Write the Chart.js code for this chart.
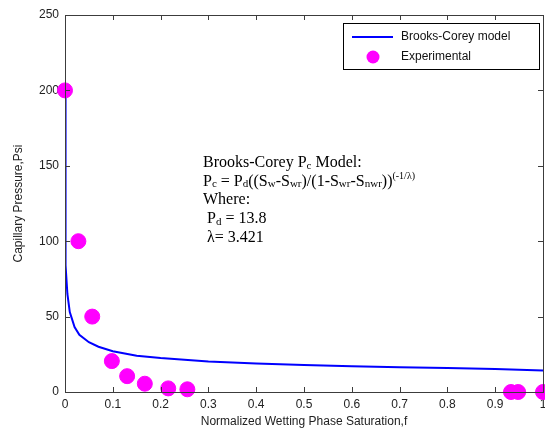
<!DOCTYPE html>
<html>
<head>
<meta charset="utf-8">
<script src="https://cdn.jsdelivr.net/npm/chart.js@4"></script>
<style>
    html, body { margin: 0; padding: 0; background: #fff; }
    #wrap { width: 545px; height: 435px; }
</style>
</head>
<body>
<div id="wrap"><canvas id="pc_chart" width="545" height="435"></canvas></div>
<script>
// Brooks-Corey model curve
var modelX = [0.0001, 0.0005, 0.001, 0.002, 0.005, 0.01, 0.02, 0.03, 0.05, 0.07, 0.1, 0.15, 0.2, 0.3, 0.4, 0.5, 0.6, 0.7, 0.8, 0.9, 1.0];
var modelY = [204, 127, 103, 84, 65, 53, 43, 38, 33, 30, 27, 24, 22.5, 20.3, 18.9, 17.9, 17.1, 16.4, 15.9, 15.2, 14.2];

// experimental points
var expX = [0, 0.028, 0.057, 0.098, 0.13, 0.167, 0.216, 0.256, 0.933, 0.948, 1.0];
var expY = [200, 100, 50, 20.5, 10.5, 5.5, 2.4, 1.8, 0, 0, 0];

var xTicks = [0, 0.1, 0.2, 0.3, 0.4, 0.5, 0.6, 0.7, 0.8, 0.9, 1];
var yTicks = [0, 50, 100, 150, 200, 250];

var seriesNames = ["Brooks-Corey model", "Experimental"];

function toPoints(xs, ys) {
    return xs.map(function (x, i) { return { x: x, y: ys[i] }; });
}

// box + inward ticks on all four sides
var boxPlugin = {
    id: 'boxPlugin',
    afterDraw: function (chart) {
        var ctx = chart.ctx, a = chart.chartArea;
        var sx = chart.scales.x, sy = chart.scales.y;
        ctx.save();
        ctx.strokeStyle = '#3c3c3c';
        ctx.lineWidth = 1;
        ctx.strokeRect(Math.round(a.left) + 0.5, Math.round(a.top) + 0.5, Math.round(a.right - a.left), Math.round(a.bottom - a.top));
        ctx.beginPath();
        xTicks.forEach(function (v) {
            var px = Math.round(sx.getPixelForValue(v)) + 0.5;
            ctx.moveTo(px, a.bottom); ctx.lineTo(px, a.bottom - 5);
            ctx.moveTo(px, a.top); ctx.lineTo(px, a.top + 5);
        });
        yTicks.forEach(function (v) {
            var py = Math.round(sy.getPixelForValue(v)) + 0.5;
            ctx.moveTo(a.left, py); ctx.lineTo(a.left + 5, py);
            ctx.moveTo(a.right, py); ctx.lineTo(a.right - 5, py);
        });
        ctx.stroke();
        ctx.restore();
    }
};

// legend box in the top right corner
var legendPlugin = {
    id: 'legendBox',
    afterDatasetsDraw: function (chart) {
        var ctx = chart.ctx, a = chart.chartArea;
        var x0 = a.right - 200, y0 = a.top + 8, w = 196, h = 46;
        ctx.save();
        ctx.fillStyle = '#fff';
        ctx.fillRect(x0, y0, w, h);
        ctx.strokeStyle = '#000';
        ctx.lineWidth = 1;
        ctx.strokeRect(x0 + 0.5, y0 + 0.5, w, h);
        ctx.strokeStyle = '#0000ff';
        ctx.lineWidth = 2;
        ctx.beginPath();
        ctx.moveTo(x0 + 9, y0 + 14); ctx.lineTo(x0 + 50, y0 + 14);
        ctx.stroke();
        ctx.fillStyle = '#ff00ff';
        ctx.beginPath();
        ctx.arc(x0 + 30, y0 + 34, 6.5, 0, Math.PI * 2);
        ctx.fill();
        ctx.fillStyle = '#111';
        ctx.font = '12px "Liberation Sans", Arial, sans-serif';
        ctx.textBaseline = 'middle';
        ctx.fillText(seriesNames[0], x0 + 58, y0 + 14);
        ctx.fillText(seriesNames[1], x0 + 58, y0 + 34);
        ctx.restore();
    }
};

// model annotation text with sub/superscripts
var noteLines = [
    [["Brooks-Corey P", 0], ["c", 1], [" Model:", 0]],
    [["P", 0], ["c", 1], [" = P", 0], ["d", 1], ["((S", 0], ["w", 1], ["-S", 0], ["wr", 1], [")/(1-S", 0], ["wr", 1], ["-S", 0], ["nwr", 1], ["))", 0], ["(-1/\u03bb)", 2]],
    [["Where:", 0]],
    [[" P", 0], ["d", 1], [" = 13.8", 0]],
    [[" \u03bb= 3.421", 0]]
];

var notePlugin = {
    id: 'note',
    afterDraw: function (chart) {
        var ctx = chart.ctx;
        var x0 = 203, y0 = 163, lh = 18.6;
        ctx.save();
        ctx.fillStyle = '#000';
        ctx.textBaseline = 'middle';
        noteLines.forEach(function (line, i) {
            var x = x0, y = y0 + i * lh;
            line.forEach(function (seg) {
                if (seg[1] === 0) {
                    ctx.font = '16px "Liberation Serif", "Times New Roman", serif';
                    ctx.fillText(seg[0], x, y);
                } else if (seg[1] === 1) {
                    ctx.font = '11px "Liberation Serif", "Times New Roman", serif';
                    ctx.fillText(seg[0], x, y + 3);
                } else {
                    ctx.font = '10px "Liberation Serif", "Times New Roman", serif';
                    ctx.fillText(seg[0], x, y - 5);
                }
                x += ctx.measureText(seg[0]).width;
            });
        });
        ctx.restore();
    }
};

var tickFont = { family: '"Liberation Sans", Arial, sans-serif', size: 12 };

new Chart(document.getElementById("pc_chart").getContext("2d"), {
    type: 'scatter',
    data: {
        datasets: [{
            label: seriesNames[0],
            type: 'line',
            data: toPoints(modelX, modelY),
            borderColor: '#0000ff',
            borderWidth: 2,
            pointRadius: 0,
            fill: false,
            tension: 0,
            order: 2
        }, {
            label: seriesNames[1],
            data: toPoints(expX, expY),
            backgroundColor: '#ff00ff',
            borderColor: '#ff00ff',
            pointRadius: 7.5,
            pointHoverRadius: 7.5,
            clip: false,
            order: 1
        }]
    },
    options: {
        responsive: false,
        animation: false,
        events: [],
        layout: { autoPadding: false, padding: { top: 15, right: 2, left: 0, bottom: 0 } },
        plugins: { legend: { display: false }, tooltip: { enabled: false } },
        scales: {
            x: {
                type: 'linear',
                min: 0, max: 1,
                afterBuildTicks: function (s) { s.ticks = xTicks.map(function (v) { return { value: v }; }); },
                afterFit: function (s) { s.height = 43; s.paddingRight = 0; s.paddingLeft = 0; },
                grid: { display: false, drawTicks: false },
                border: { display: false },
                ticks: { font: tickFont, color: '#222', padding: 5, maxRotation: 0,
                    callback: function (v) { return String(v); } },
                title: { display: true, text: 'Normalized Wetting Phase Saturation,f', font: tickFont, color: '#222', padding: { top: 3, bottom: 6 } }
            },
            y: {
                type: 'linear',
                min: 0, max: 250,
                afterBuildTicks: function (s) { s.ticks = yTicks.map(function (v) { return { value: v }; }); },
                afterFit: function (s) { s.width = 65; },
                grid: { display: false, drawTicks: false },
                border: { display: false },
                ticks: { font: tickFont, color: '#222', padding: 6 },
                title: { display: true, text: 'Capillary Pressure,Psi', font: tickFont, color: '#222', padding: { top: 11, bottom: 0 } }
            }
        }
    },
    plugins: [boxPlugin, legendPlugin, notePlugin]
});
</script>
</body>
</html>
